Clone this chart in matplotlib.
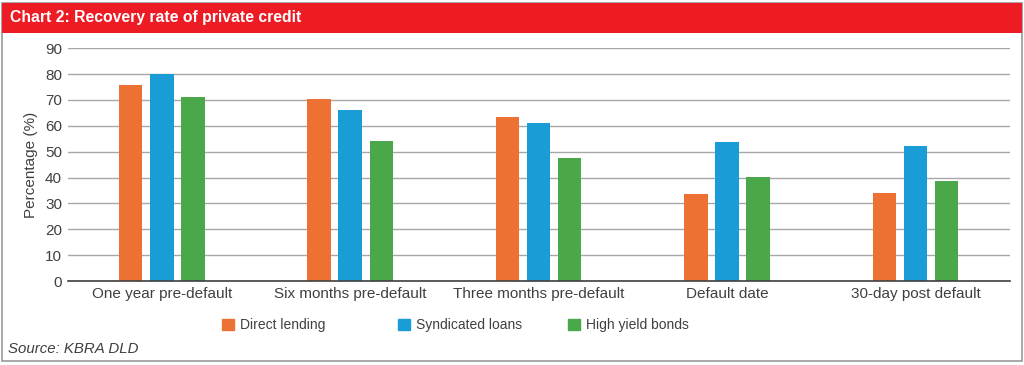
import numpy as np
from matplotlib import pyplot as plt
from matplotlib.patches import Rectangle

plt.rcParams['font.family'] = ['Liberation Sans', 'DejaVu Sans']

categories = ["One year pre-default", "Six months pre-default", "Three months pre-default",
              "Default date", "30-day post default"]
direct_lending = [75.7, 70.3, 63.5, 33.6, 34.0]
syndicated_loans = [80.0, 66.0, 60.9, 53.8, 52.1]
high_yield_bonds = [71.0, 54.0, 47.4, 40.2, 38.5]
series_names = ["Direct lending", "Syndicated loans", "High yield bonds"]
colors = ["#ED7133", "#1A9CD6", "#4AA84A"]
text_col = "#404040"

fig = plt.figure(figsize=(10.24, 3.65), dpi=100)

# outer frame + red title band
fig.patches.append(Rectangle((0.002, 0.010), 0.996, 0.982, transform=fig.transFigure,
                             fill=False, edgecolor="#9a9a9a", lw=1.2))
fig.patches.append(Rectangle((0.002, 0.91), 0.996, 0.082, transform=fig.transFigure,
                             facecolor="#ED1C24", edgecolor="none"))
fig.text(0.010, 0.951, "Chart 2: Recovery rate of private credit", color="white",
         fontsize=11.3, fontweight="bold", va="center", ha="left")

ax = fig.add_axes([0.066, 0.230, 0.920, 0.638])
x = np.arange(len(categories))
w = 0.125
off = 0.165
for i, vals in enumerate([direct_lending, syndicated_loans, high_yield_bonds]):
    ax.bar(x + (i - 1) * off, vals, w, color=colors[i], label=series_names[i], zorder=3)

ax.set_ylim(0, 90)
ax.set_xlim(-0.5, len(categories) - 0.5)
ax.set_yticks(range(0, 91, 10))
ax.grid(axis="y", color="#a8a8a8", lw=1.0, zorder=0)
for s in ["top", "right", "left"]:
    ax.spines[s].set_visible(False)
ax.spines["bottom"].set_color("#404040")
ax.spines["bottom"].set_linewidth(1.2)
ax.spines["bottom"].set_zorder(4)
ax.set_xticks(x)
ax.set_xticklabels(categories)
ax.tick_params(axis="both", length=0, labelsize=11, colors=text_col, pad=4)
ax.set_ylabel("Percentage (%)", fontsize=11, color=text_col, labelpad=5)

# legend entries sit at fixed slots, like the original
legend_x = [0.217, 0.389, 0.555]
for lx, name, c in zip(legend_x, series_names, colors):
    leg = fig.legend([Rectangle((0, 0), 1, 1, color=c)], [name], loc="center left",
                     bbox_to_anchor=(lx, 0.11), frameon=False, fontsize=10,
                     handlelength=0.85, handleheight=0.85, handletextpad=0.45,
                     borderpad=0, borderaxespad=0, labelcolor=text_col)

fig.text(0.008, 0.045, "Source: KBRA DLD", fontsize=10.8, style="italic",
         color=text_col, va="center", ha="left")

fig.savefig("out.png", dpi=100)
